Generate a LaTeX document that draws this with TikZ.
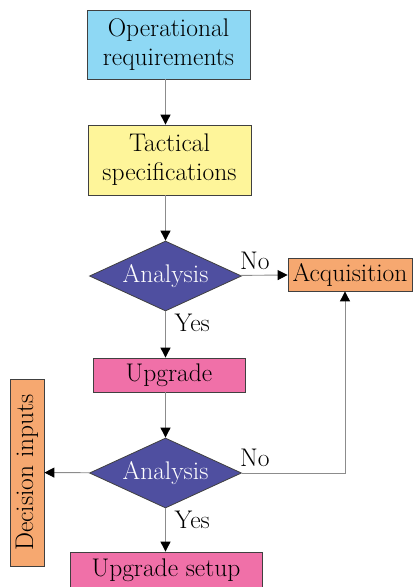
\documentclass[tikz,border=0pt]{standalone}
\usepackage{fontspec}
\usetikzlibrary{shapes.geometric,arrows.meta}
\definecolor{reqblue}{HTML}{8ED8F4}
\definecolor{specyellow}{HTML}{FEF59A}
\definecolor{decblue}{HTML}{4F4FA0}
\definecolor{acqorange}{HTML}{F6A870}
\definecolor{upgpink}{HTML}{F070A8}
\tikzset{
  box/.style={draw=black!75, line width=0.8pt, rectangle, inner sep=0pt, align=center},
  decision/.style={draw=black!75, line width=0.8pt, diamond, aspect=2.17, fill=decblue,
    text=white, minimum width=152pt, minimum height=70pt, inner sep=0pt},
  flow/.style={draw=black!45, line width=0.9pt, -{Triangle[black,length=10pt,width=10pt]}}
}
\begin{document}
\begin{tikzpicture}[x=1pt,y=-1pt,font=\fontsize{25.5}{29}\selectfont]
		\useasboundingbox (0,0) rectangle (414,587);
		\node[box, fill=reqblue, minimum width=163pt, minimum height=69pt] (oper) at (168.5,44.5) {Operational\\requirements};
		\node[box, fill=specyellow, minimum width=163pt, minimum height=70pt] (tact) at (169.5,160) {Tactical\\specifications};
		\node[decision] (ana1) at (165.5,276) {Analysis};
		\node[box, fill=acqorange, minimum width=124pt, minimum height=33pt] (acq) at (350,274.5) {Acquisition};
		\node[box, fill=upgpink, minimum width=152pt, minimum height=34pt] (upg) at (169,375) {Upgrade};
		\node[decision] (ana2) at (165.5,473) {Analysis};
		\node[box, fill=acqorange, rotate=90, minimum width=187pt, minimum height=34pt] (dec) at (27,472.5) {Decision inputs};
		\node[box, fill=upgpink, minimum width=192pt, minimum height=36pt] (setup) at (166,570) {Upgrade setup};
		\coordinate (turn) at (345,473);
		\draw[flow] (oper.south -| ana1) -- (tact.north -| ana1);
		\draw[flow] (tact.south -| ana1) -- (ana1);
		\draw[flow] (ana1) -- (acq);
		\draw[flow] (ana1) -- (upg.north -| ana1);
		\draw[flow] (upg.south -| ana2) -- (ana2);
		\draw[flow] (ana2) -- (dec);
		\draw[flow] (ana2.east) -- (turn) -- (turn |- acq.south);
		\draw[flow] (ana2) -- (setup.north -| ana2);
		\node[anchor=south west, inner sep=0pt, xshift=-2pt, yshift=6pt] (no1) at (ana1.east) {No};
		\node[anchor=north west, inner sep=2pt] (yes1) at (ana1.south) {\hspace{7pt}Yes};
		\node[anchor=south west, inner sep=0pt, xshift=-2pt, yshift=6pt] (no2) at (ana2.east) {No};
		\node[anchor=north west, inner sep=2pt] (yes2) at (ana2.south) {\hspace{7pt}Yes};
	\end{tikzpicture}
\end{document}
